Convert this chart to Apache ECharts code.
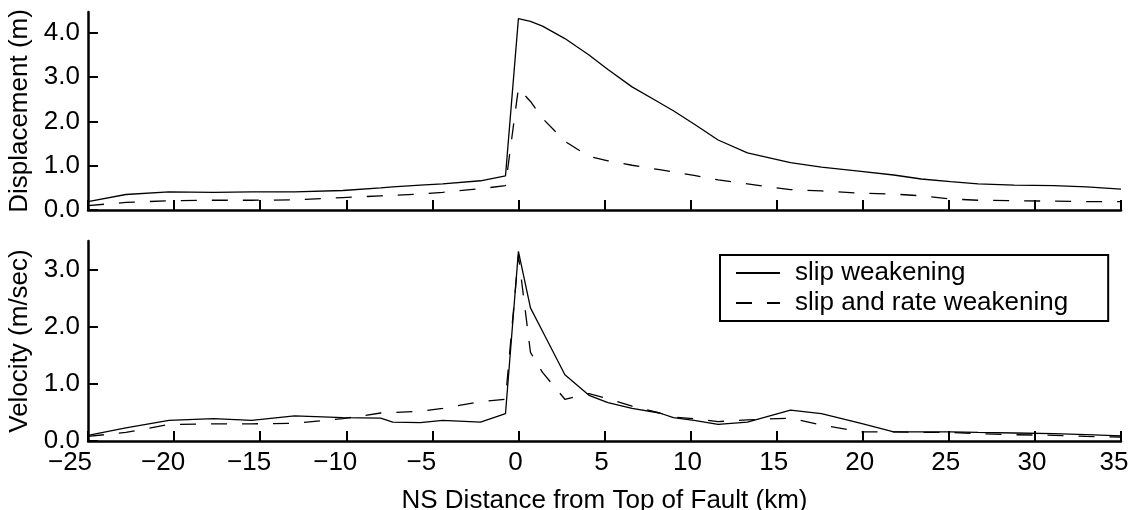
<!DOCTYPE html>
<html><head><meta charset="utf-8">
<script src="https://cdn.jsdelivr.net/npm/echarts@6/dist/echarts.min.js"></script>
<style>html,body{margin:0;padding:0;background:#fff}#c{width:1131px;height:510px}</style>
</head><body><div id="c"></div>
<script>
// NS distance from top of fault (km)
const distanceKm = [-25, -22.8, -20.3, -17.7, -15.5, -13, -10.2, -8, -7.3, -5.7, -4.4, -2.2, -0.75, 0, 0.7, 1.4, 2.7, 4.1, 5.2, 6.6, 8.2, 9.0, 10.2, 11.6, 13.3, 15.8, 17.6, 19.9, 21.8, 23.4, 25.1, 26.7, 28.8, 31.1, 33, 35];
// Displacement (m)
const dispSlipWeak = [0.19, 0.35, 0.41, 0.40, 0.41, 0.41, 0.44, 0.50, 0.52, 0.56, 0.59, 0.66, 0.77, 4.32, 4.26, 4.15, 3.87, 3.50, 3.17, 2.78, 2.42, 2.24, 1.94, 1.58, 1.29, 1.07, 0.97, 0.87, 0.79, 0.70, 0.64, 0.59, 0.56, 0.55, 0.52, 0.47];
const dispSlipRateWeak = [0.10, 0.17, 0.21, 0.22, 0.22, 0.23, 0.28, 0.32, 0.33, 0.36, 0.40, 0.48, 0.55, 2.75, 2.45, 2.07, 1.55, 1.21, 1.11, 1.01, 0.91, 0.86, 0.78, 0.68, 0.59, 0.46, 0.43, 0.38, 0.36, 0.32, 0.25, 0.22, 0.21, 0.20, 0.19, 0.19];
// Velocity (m/sec)
const velSlipWeak = [0.10, 0.23, 0.36, 0.39, 0.36, 0.44, 0.41, 0.40, 0.33, 0.32, 0.36, 0.33, 0.48, 3.32, 2.33, 1.92, 1.16, 0.80, 0.67, 0.57, 0.49, 0.41, 0.36, 0.29, 0.33, 0.54, 0.48, 0.31, 0.16, 0.16, 0.16, 0.15, 0.14, 0.13, 0.11, 0.09];
const velSlipRateWeak = [0.08, 0.15, 0.29, 0.30, 0.30, 0.31, 0.39, 0.49, 0.50, 0.52, 0.57, 0.69, 0.73, 3.25, 1.55, 1.20, 0.73, 0.83, 0.74, 0.61, 0.49, 0.42, 0.39, 0.34, 0.37, 0.40, 0.28, 0.16, 0.16, 0.15, 0.15, 0.13, 0.11, 0.10, 0.08, 0.07];

const xTicks = [-25, -20, -15, -10, -5, 0, 5, 10, 15, 20, 25, 30, 35];
const dispTicks = [0, 1, 2, 3, 4];
const velTicks = [0, 1, 2, 3];
const seriesNames = ['slip weakening', 'slip and rate weakening'];
const xTitle = 'NS Distance from Top of Fault (km)';
const dispTitle = 'Displacement (m)';
const velTitle = 'Velocity (m/sec)';

const FONT = "'Liberation Sans', Arial, Helvetica, sans-serif";
const FS = 26;
const pair = arr => distanceKm.map((x, i) => [x, arr[i]]);
const axLine = { show: true, onZero: false, lineStyle: { color: '#000', width: 2.5 } };
const tick = vals => ({ show: true, inside: true, length: 10, customValues: vals, lineStyle: { color: '#000', width: 2 } });

// x labels: digits centred on the tick (minus sign hangs left), end labels nudged inward
function xLabel(v) {
  const txt = String(v).replace('-', '\u2212');
  let pad = 'p6';
  if (v === xTicks[0]) pad = 'p36';
  else if (v === xTicks[xTicks.length - 1]) pad = 'p14';
  else if (v < 0) pad = 'p22';
  return '{t|' + txt + '}{' + pad + '| }';
}
const xRich = { t: {}, p6: { width: 6 }, p14: { width: 14 }, p22: { width: 22 }, p36: { width: 36 } };

function xAxis(gridIndex, showLabels) {
  return {
    type: 'value', gridIndex, min: -25, max: 35, interval: 5,
    axisLine: axLine, splitLine: { show: false },
    axisTick: tick(xTicks),
    axisLabel: { show: showLabels, customValues: xTicks, color: '#000', fontFamily: FONT, fontSize: FS, margin: 9,
      formatter: xLabel, rich: xRich },
    name: showLabels ? xTitle : '', nameLocation: 'middle', nameGap: 47,
    nameTextStyle: { color: '#000', fontFamily: FONT, fontSize: FS }
  };
}
function yAxis(gridIndex, max, ticks, title) {
  return {
    type: 'value', gridIndex, min: 0, max,
    axisLine: axLine, splitLine: { show: false },
    axisTick: tick(ticks),
    axisLabel: { customValues: ticks, color: '#000', fontFamily: FONT, fontSize: FS, margin: 8,
      formatter: v => v.toFixed(1) },
    name: title, nameLocation: 'middle', nameGap: 43,
    nameTextStyle: { color: '#000', fontFamily: FONT, fontSize: FS }
  };
}
function line(name, data, xi, dashed) {
  return {
    type: 'line', name, data, xAxisIndex: xi, yAxisIndex: xi,
    symbol: 'none', silent: true, animation: false,
    lineStyle: { color: '#000', width: 1.3, type: dashed ? [16, 15] : 'solid' },
    itemStyle: { color: '#000' }
  };
}

const chart = echarts.init(document.getElementById('c'), null, { renderer: 'canvas' });
chart.setOption({
  animation: false,
  backgroundColor: '#fff',
  grid: [
    { left: 88, right: 10, top: 12, height: 198, containLabel: false, outerBoundsMode: 'none' },
    { left: 88, right: 10, top: 241, height: 200, containLabel: false, outerBoundsMode: 'none' }
  ],
  xAxis: [xAxis(0, false), xAxis(1, true)],
  yAxis: [yAxis(0, 4.47, dispTicks, dispTitle), yAxis(1, 3.5, velTicks, velTitle)],
  legend: {
    data: seriesNames, orient: 'vertical', left: 720, top: 255,
    itemWidth: 44, itemHeight: 26, itemGap: 4,
    padding: [5, 40, 5, 15],
    borderColor: '#000', borderWidth: 2,
    itemStyle: { color: 'transparent', borderColor: 'transparent', borderWidth: 0, opacity: 0 },
    textStyle: { color: '#000', fontFamily: FONT, fontSize: FS, padding: [0, 0, 0, 10] }
  },
  series: [
    line(seriesNames[0], pair(dispSlipWeak), 0, false),
    line(seriesNames[1], pair(dispSlipRateWeak), 0, true),
    line(seriesNames[0], pair(velSlipWeak), 1, false),
    line(seriesNames[1], pair(velSlipRateWeak), 1, true)
  ]
});
</script></body></html>
